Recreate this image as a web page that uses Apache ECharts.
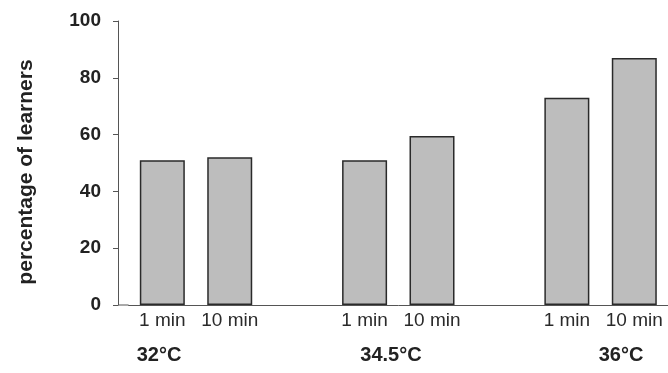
<!DOCTYPE html>
<html><head><meta charset="utf-8">
<script src="https://cdn.jsdelivr.net/npm/echarts@6/dist/echarts.min.js"></script>
<style>html,body{margin:0;padding:0;background:#fff}#c{width:668px;height:373px}</style>
</head><body><div id="c"></div>
<script>
// data
var timeLabels = ['1 min', '10 min', '', '1 min', '10 min', '', '1 min', '10 min'];
var values = [51, 52, null, 51, 59.5, null, 73, 87];
var groupLabels = ['32°C', '34.5°C', '36°C'];
var groupLabelX = [159, 391, 621];
var yTicks = [0, 20, 40, 60, 80, 100];

var chart = echarts.init(document.getElementById('c'));
var font = 'Liberation Sans, Arial, sans-serif';
var gridLeft = 128.6, gridTop = 21, gridBottom = 68;
chart.setOption({
  animation: false,
  grid: {left: gridLeft, top: gridTop, bottom: gridBottom, right: -2},
  xAxis: {
    type: 'category', data: timeLabels,
    axisLine: {lineStyle: {color: '#555', width: 1}},
    axisTick: {show: false},
    axisLabel: {color: '#2a2a2a', fontFamily: font, fontSize: 19, margin: 6, interval: 0}
  },
  yAxis: {
    type: 'value', min: yTicks[0], max: yTicks[yTicks.length-1], interval: 20,
    offset: 10.6,
    name: 'percentage of learners', nameLocation: 'middle', nameGap: 81,
    nameTextStyle: {color: '#222', fontFamily: font, fontSize: 21, fontWeight: 'bold', padding: [0, 0, 0, -18]},
    axisLine: {show: true, lineStyle: {color: '#555', width: 1}},
    axisTick: {show: true, length: 5, lineStyle: {color: '#555'}},
    splitLine: {show: false},
    axisLabel: {color: '#222', fontFamily: font, fontSize: 19, fontWeight: 'bold', margin: 17}
  },
  series: [{
    type: 'bar', data: values, barWidth: 45,
    itemStyle: {color: '#bdbdbd', borderColor: '#2a2a2a', borderWidth: 1.5}
  }],
  graphic: [{
    type: 'line', shape: {x1: 118, y1: 373 - gridBottom, x2: gridLeft, y2: 373 - gridBottom},
    style: {stroke: '#555', lineWidth: 1}
  }].concat(groupLabels.map(function (t, i) {
    return {type: 'text', x: groupLabelX[i], y: 355,
      style: {text: t, fill: '#222', font: 'bold 20px ' + font, textAlign: 'center', textVerticalAlign: 'middle'}};
  }))
});
</script></body></html>
